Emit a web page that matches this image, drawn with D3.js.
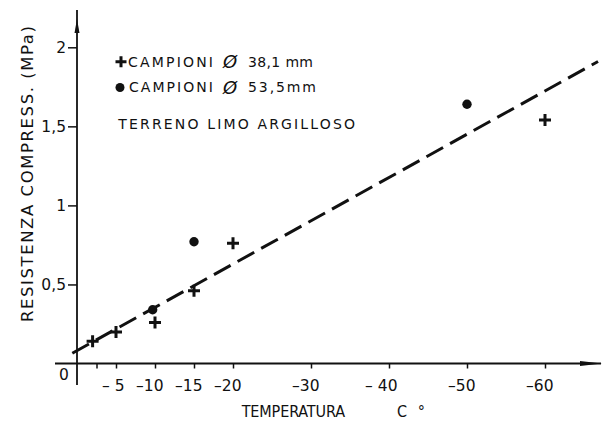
<!DOCTYPE html>
<html>
<head>
<meta charset="utf-8">
<script src="https://cdn.jsdelivr.net/npm/d3@7/dist/d3.min.js"></script>
<style>
  html, body { margin: 0; padding: 0; background: #fff; }
  svg { display: block; font-family: "DejaVu Sans", sans-serif; }
  text { fill: #111; }
</style>
</head>
<body>
<script>
// Temperature axis ticks (°C) and their printed labels
const tempTicks = [-2.5, -5, -10, -15, -20, -30, -40, -50, -60];
const tempTickLabels = ["", "– 5", "–10", "–15", "–20", "–30", "– 40", "–50", "–60"];

// Compressive strength axis ticks (MPa) and labels
const strengthTicks = [0.5, 1, 1.5, 2];
const strengthTickLabels = ["0,5", "1", "1,5", "2"];

// Samples Ø 38,1 mm (crosses)
const temp381 = [-2, -5, -10, -15, -20, -60];
const strength381 = [0.14, 0.2, 0.26, 0.46, 0.76, 1.54];

// Samples Ø 53,5 mm (dots)
const temp535 = [-9.7, -15, -50];
const strength535 = [0.34, 0.77, 1.64];

// Dashed trend line end points
const trendTemp = [0.6, -66.8];
const trendStrength = [0.065, 1.91];

const width = 608, height = 421;
const ink = "#111";
const regular = "'DejaVu Sans', sans-serif";
const narrow = "'DejaVu Sans Condensed', 'DejaVu Sans', sans-serif";

const svg = d3.select("body").append("svg")
  .attr("width", width).attr("height", height);

const x = d3.scaleLinear().domain([0, -60]).range([77, 545]);
const y = d3.scaleLinear().domain([0, 2]).range([363.5, 47.3]);

// Axis lines drawn past the origin, with arrow heads
svg.append("line").attr("x1", 55).attr("x2", 601).attr("y1", y(0)).attr("y2", y(0))
  .attr("stroke", ink).attr("stroke-width", 1.8);
svg.append("path").attr("d", `M580,${y(0)-2.5} L602,${y(0)} L580,${y(0)+2.5} Z`).attr("fill", ink);
svg.append("line").attr("x1", x(0)).attr("x2", x(0)).attr("y1", 385).attr("y2", 10)
  .attr("stroke", ink).attr("stroke-width", 1.8);
svg.append("path").attr("d", `M${x(0)-2.5},33 L${x(0)},19 L${x(0)+2.5},33 Z`).attr("fill", ink);

// Bottom axis ticks and labels
const xAxis = d3.axisBottom(x).tickValues(tempTicks)
  .tickFormat((d, i) => tempTickLabels[i]).tickSize(5).tickSizeOuter(0);
const gx = svg.append("g").attr("transform", `translate(0,${y(0)})`).call(xAxis);
gx.select(".domain").remove();
gx.selectAll(".tick line").attr("stroke", ink).attr("stroke-width", 1.5);
gx.selectAll(".tick text")
  .attr("font-family", regular).attr("font-size", 15.5)
  .attr("fill", ink).attr("y", 16).attr("text-anchor", "end").attr("dx", 8);

// Left axis ticks and labels
const yAxis = d3.axisLeft(y).tickValues(strengthTicks)
  .tickFormat((d, i) => strengthTickLabels[i]).tickSize(9).tickSizeOuter(0);
const gy = svg.append("g").attr("transform", `translate(${x(0)},0)`).call(yAxis);
gy.select(".domain").remove();
gy.selectAll(".tick line").attr("stroke", ink).attr("stroke-width", 1.5);
gy.selectAll(".tick text")
  .attr("font-family", regular).attr("font-size", 15.5)
  .attr("fill", ink).attr("x", -11);

// Origin label
svg.append("text").attr("x", x(0) - 13).attr("y", 380).attr("font-family", regular)
  .attr("text-anchor", "middle").attr("font-size", 15.5).text("0");

// Axis titles
svg.append("text").attr("x", 241.7).attr("y", 417).attr("font-family", narrow)
  .attr("font-size", 16).attr("textLength", 103.3).attr("lengthAdjust", "spacing")
  .text("TEMPERATURA");
svg.append("text").attr("x", 397).attr("y", 417).attr("font-family", narrow)
  .attr("font-size", 16).attr("textLength", 28).attr("lengthAdjust", "spacing").text("C°");
svg.append("text").attr("transform", "translate(32.5,322) rotate(-90)")
  .attr("font-family", regular).attr("font-size", 16.5)
  .attr("textLength", 296).attr("lengthAdjust", "spacing")
  .text("RESISTENZA  COMPRESS. (MPa)");

// Trend line
const line = d3.line().x(d => x(d[0])).y(d => y(d[1]));
svg.append("path").datum(d3.zip(trendTemp, trendStrength))
  .attr("d", line).attr("fill", "none").attr("stroke", ink)
  .attr("stroke-width", 3).attr("stroke-dasharray", "19,8");

// Marker helpers
function cross(g, cx, cy, s) {
  g.append("path").attr("d", `M${cx - s},${cy} H${cx + s} M${cx},${cy - s} V${cy + s}`)
    .attr("stroke", ink).attr("stroke-width", 3).attr("fill", "none");
}
function dot(g, cx, cy, r) {
  g.append("circle").attr("cx", cx).attr("cy", cy).attr("r", r).attr("fill", ink);
}

const pts = svg.append("g");
d3.zip(temp381, strength381).forEach(([t, v]) => cross(pts, x(t), y(v), 6));
d3.zip(temp535, strength535).forEach(([t, v]) => dot(pts, x(t), y(v), 4.7));

// Legend
const lg = svg.append("g").attr("font-size", 14).attr("font-family", regular);
cross(lg, 121, 61.7, 5.5);
lg.append("text").attr("x", 128).attr("y", 66.5).attr("textLength", 85)
  .attr("lengthAdjust", "spacing").text("CAMPIONI");
lg.append("text").attr("x", 223).attr("y", 68).attr("font-size", 18)
  .attr("font-style", "italic").text("Ø");
lg.append("text").attr("x", 248).attr("y", 66.5).attr("textLength", 65)
  .attr("lengthAdjust", "spacing").text("38,1 mm");

dot(lg, 120, 87.5, 4.5);
lg.append("text").attr("x", 129).attr("y", 92).attr("textLength", 84)
  .attr("lengthAdjust", "spacing").text("CAMPIONI");
lg.append("text").attr("x", 223).attr("y", 93.5).attr("font-size", 18)
  .attr("font-style", "italic").text("Ø");
lg.append("text").attr("x", 248).attr("y", 92).attr("textLength", 68)
  .attr("lengthAdjust", "spacing").text("53,5mm");

lg.append("text").attr("x", 118.3).attr("y", 128.5).attr("textLength", 236.7)
  .attr("lengthAdjust", "spacing").text("TERRENO LIMO ARGILLOSO");
</script>
</body>
</html>
